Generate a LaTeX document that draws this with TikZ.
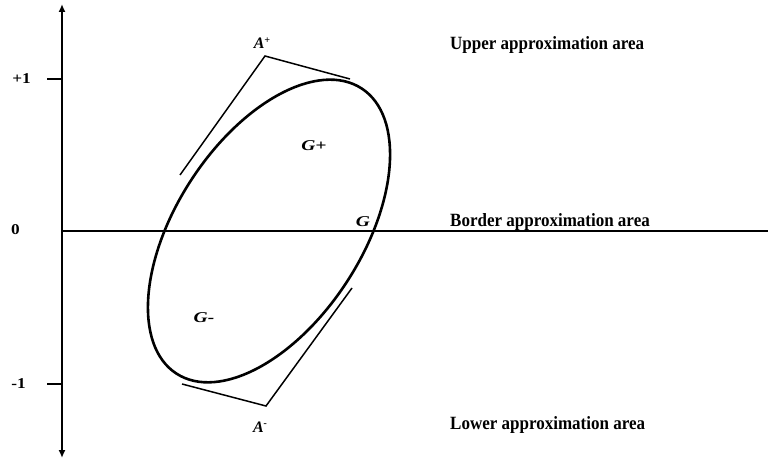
\documentclass[tikz,border=0pt]{standalone}
\usepackage{fontspec}
\setmainfont{Liberation Serif}
\usetikzlibrary{arrows.meta}
\begin{document}
\begin{tikzpicture}[x=1pt,y=-1pt,
  axis/.style={line width=2pt},
  hline/.style={line width=1.6pt},
  curve/.style={line width=2.6pt},
  tang/.style={line width=1.5pt},
  area/.style={anchor=west,inner sep=0pt,yscale=1.1,transform shape,font=\fontsize{17}{20}\selectfont\bfseries},
  tick/.style={inner sep=0pt,xscale=1.15,transform shape,font=\fontsize{15}{17}\selectfont\bfseries},
  glab/.style={inner sep=0pt,xscale=1.3,transform shape,font=\fontsize{15}{17}\selectfont\bfseries\itshape},
  alab/.style={inner sep=0pt,font=\fontsize{16}{18}\selectfont\bfseries\itshape}]
\useasboundingbox (0,0) rectangle (768,462);
% axes
\coordinate (top) at (62,4);
\coordinate (bot) at (62,458);
\coordinate (o) at (62,231);
\coordinate (xe) at (768,231);
\draw[axis,{Latex[length=8pt,width=7pt]}-{Latex[length=8pt,width=7pt]}] (bot) -- (top);
\draw[hline] (o) -- (xe);
\coordinate (tp) at (62,79);
\coordinate (tpl) at (47,79);
\coordinate (tm) at (62,384);
\coordinate (tml) at (47,384);
\draw[axis] (tpl) -- (tp);
\draw[axis] (tml) -- (tm);
\node[tick,anchor=east] (lp) at (31,79) {+1};
\node[tick,anchor=east] (l0) at (20,230) {0};
\node[tick,anchor=east] (lm) at (26,384) {-1};
% ellipse
\coordinate (c) at (269,231);
\draw[curve,rotate around={57:(c)}] (c) ellipse [x radius=170, y radius=93];
% tangent lines
\coordinate (ap) at (265,56);
\coordinate (ap1) at (180,175);
\coordinate (ap2) at (350,79);
\draw[tang] (ap1) -- (ap) -- (ap2);
\coordinate (am) at (266,406);
\coordinate (am1) at (182,384);
\coordinate (am2) at (352,288);
\draw[tang] (am1) -- (am) -- (am2);
\node[alab] (Ap) at (262,43) {A\raisebox{0.35em}{\fontsize{10}{10}\selectfont +}};
\node[alab] (Am) at (260,427) {A\raisebox{0.35em}{\fontsize{10}{10}\selectfont -}};
% labels
\node[glab] (Gp) at (314,146) {G+};
\node[glab] (Gm) at (204,318) {G-};
\node[glab] (G) at (363,222) {G};
\node[area] (up) at (450,45) {Upper approximation area};
\node[area] (bd) at (450,222) {Border approximation area};
\node[area] (lo) at (450,425) {Lower approximation area};
\end{tikzpicture}
\end{document}
